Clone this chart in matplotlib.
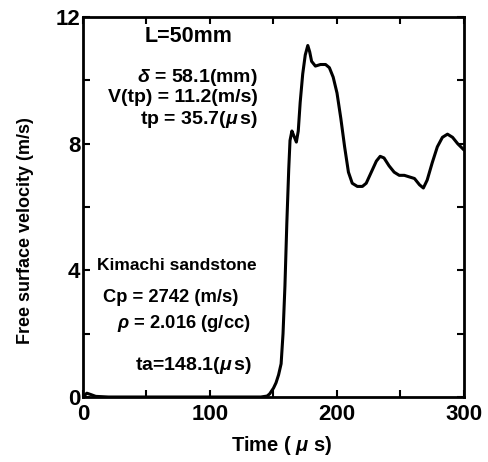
import matplotlib
matplotlib.use("Agg")
import matplotlib.pyplot as plt
from matplotlib.ticker import MultipleLocator

time_us = [0, 3, 6, 10, 20, 60, 100, 140, 145, 147, 150, 152, 154, 156, 157.5, 159, 160.5, 162, 163,
           164.5, 166, 168, 169.5, 171, 173, 175, 177, 178.5, 180, 183, 187, 191, 194, 197, 200,
           203, 206, 209, 212, 216, 220, 223, 227, 231, 234, 237, 241, 245, 249, 253, 257, 261,
           265, 268, 271, 275, 279, 283, 287, 291, 295, 300]
velocity = [0, 0.12, 0.08, 0.02, 0, 0, 0, 0, 0.03, 0.1, 0.28, 0.45, 0.7, 1.05, 2.0, 3.5, 5.5, 7.2,
            8.1, 8.4, 8.25, 8.05, 8.4, 9.3, 10.2, 10.8, 11.1, 10.9, 10.6, 10.45, 10.5, 10.5, 10.4,
            10.1, 9.6, 8.8, 7.9, 7.1, 6.75, 6.65, 6.65, 6.75, 7.1, 7.45, 7.6, 7.55, 7.3, 7.1, 7.0,
            7.0, 6.95, 6.9, 6.7, 6.6, 6.85, 7.4, 7.9, 8.2, 8.3, 8.2, 8.0, 7.8]

x_ticklabels = ["0", "100", "200", "300"]
y_ticklabels = ["0", "4", "8", "12"]

plt.rcParams['font.family'] = ['Liberation Sans', 'DejaVu Sans']
plt.rcParams['font.weight'] = 'bold'
plt.rcParams['mathtext.fontset'] = 'custom'
plt.rcParams['mathtext.it'] = 'Liberation Sans:italic:bold'
plt.rcParams['mathtext.rm'] = 'Liberation Sans:bold'

L, R, T, B = 83, 464, 17, 397
W, H = 489.0, 462.0
fig = plt.figure(figsize=(4.89, 4.62), dpi=100)
ax = fig.add_axes([L / W, 1 - B / H, (R - L) / W, (B - T) / H])
ax.plot(time_us, velocity, color='black', lw=2.2, solid_joinstyle='round', solid_capstyle='round')
ax.set_xlim(0, 300)
ax.set_ylim(0, 12)
ax.set_xticks([0, 100, 200, 300])
ax.set_xticklabels(x_ticklabels, fontweight='bold')
ax.set_yticks([0, 4, 8, 12])
ax.set_yticklabels(y_ticklabels, fontweight='bold')
ax.xaxis.set_minor_locator(MultipleLocator(50))
ax.yaxis.set_minor_locator(MultipleLocator(2))
ax.tick_params(which='both', direction='in', top=True, right=True, width=1.5, labelsize=16)
ax.tick_params(which='major', length=5)
ax.tick_params(which='minor', length=5)
ax.tick_params(axis='y', pad=2)
ax.tick_params(axis='x', pad=5)
for s in ax.spines.values():
    s.set_linewidth(2)

def px(xp, yp):
    return ((xp - L) / float(R - L), (B - yp) / float(B - T))

ax.set_xlabel("Time ( $\\mu$ s)", fontsize=14.5, fontweight='bold')
ax.set_ylabel("Free surface velocity (m/s)", fontsize=13, fontweight='bold')
ax.xaxis.set_label_coords(*px(282, 434))
ax.yaxis.set_label_coords(*px(34, 231))

tk = dict(transform=ax.transAxes, fontweight='bold', color='black')

ax.text(*px(145, 37), "L=50mm", fontsize=15.5, ha='left', va='center', **tk)
ax.text(*px(258, 77), "$\\delta$ = 58.1(mm)", fontsize=14, ha='right', va='center', **tk)
ax.text(*px(258, 98), "V(tp) = 11.2(m/s)", fontsize=14, ha='right', va='center', **tk)
ax.text(*px(258, 120), "tp = 35.7($\\mu\\,$s)", fontsize=14, ha='right', va='center', **tk)
ax.text(*px(97, 266), "Kimachi sandstone", fontsize=12.5, ha='left', va='center', **tk)
ax.text(*px(103, 297), "Cp = 2742 (m/s)", fontsize=13.2, ha='left', va='center', **tk)
ax.text(*px(117, 323), "$\\rho$ = 2.016 (g/cc)", fontsize=13.2, ha='left', va='center', **tk)
ax.text(*px(135, 366), "ta=148.1($\\mu\\,$s)", fontsize=14, ha='left', va='center', **tk)

fig.savefig("out.png", dpi=100)
